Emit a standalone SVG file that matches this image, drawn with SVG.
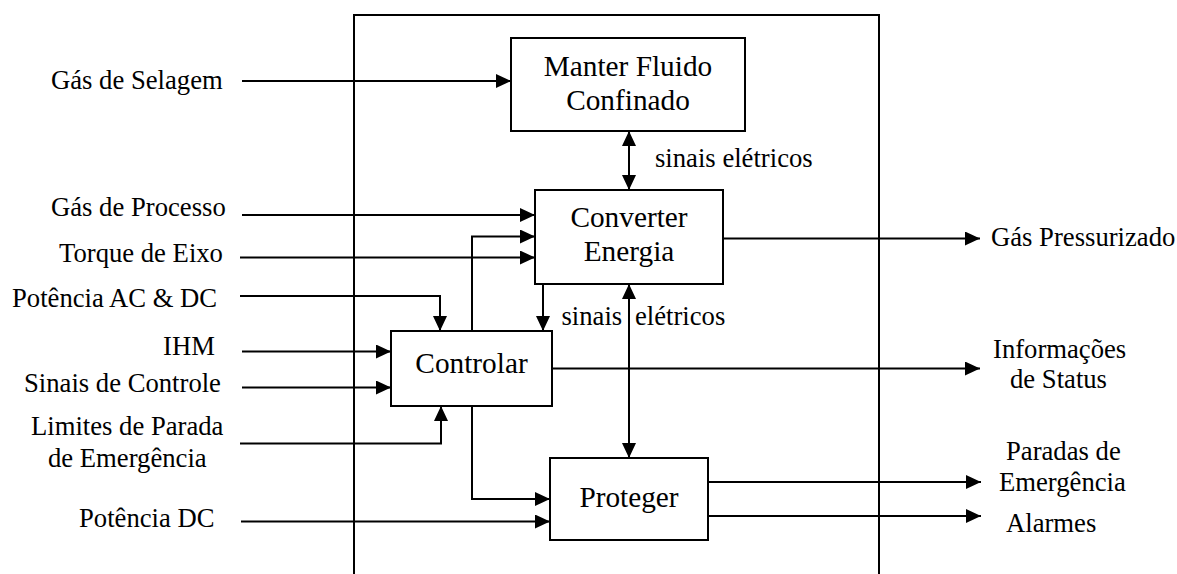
<svg xmlns="http://www.w3.org/2000/svg" width="1177" height="574" viewBox="0 0 1177 574">
<style>
.lbl{font-family:'Liberation Serif','DejaVu Serif',serif;font-size:26.67px;fill:#000}
.box{font-family:'Liberation Serif','DejaVu Serif',serif;font-size:29.3px;fill:#000;text-anchor:middle}
.node rect{fill:#fff;stroke:#000;stroke-width:2}
.wire{fill:none;stroke:#000;stroke-width:2}
</style>
<defs>
<marker id="ah" markerUnits="userSpaceOnUse" markerWidth="16" markerHeight="15" refX="15" refY="7" orient="auto-start-reverse">
<path d="M0,0 L15,7 L0,14 z" fill="#000"/>
</marker>
</defs>
<rect width="1177" height="574" fill="#fff"/>
<g id="boundary">
<path class="wire" d="M354,574 V15 H879 V574"/>
</g>
<g id="connectors">
<path class="wire" d="M242,81 H511" marker-end="url(#ah)"/>
<path class="wire" d="M629,131 V190" marker-start="url(#ah)" marker-end="url(#ah)"/>
<path class="wire" d="M242,215 H535" marker-end="url(#ah)"/>
<path class="wire" d="M472,331 V236.5 H535" marker-end="url(#ah)"/>
<path class="wire" d="M240,257.5 H535" marker-end="url(#ah)"/>
<path class="wire" d="M240,296 H440 V331" marker-end="url(#ah)"/>
<path class="wire" d="M543,284 V331" marker-end="url(#ah)"/>
<path class="wire" d="M629,284 V458" marker-start="url(#ah)" marker-end="url(#ah)"/>
<path class="wire" d="M242,351.5 H391" marker-end="url(#ah)"/>
<path class="wire" d="M242,387.5 H391" marker-end="url(#ah)"/>
<path class="wire" d="M240,443.5 H441 V406" marker-end="url(#ah)"/>
<path class="wire" d="M472,406 V499 H550" marker-end="url(#ah)"/>
<path class="wire" d="M241,521.5 H550" marker-end="url(#ah)"/>
<path class="wire" d="M723,238.5 H980" marker-end="url(#ah)"/>
<path class="wire" d="M552,368.5 H980" marker-end="url(#ah)"/>
<path class="wire" d="M708,482 H981" marker-end="url(#ah)"/>
<path class="wire" d="M708,516 H981" marker-end="url(#ah)"/>
</g>
<g id="manter" class="node">
<rect x="511" y="38" width="234" height="93"/>
<text class="box" x="628" y="76">Manter Fluido</text>
<text class="box" x="628" y="110">Confinado</text>
</g>
<g id="converter" class="node">
<rect x="535" y="190" width="188" height="94"/>
<text class="box" x="629" y="226.5">Converter</text>
<text class="box" x="629" y="261">Energia</text>
</g>
<g id="controlar" class="node">
<rect x="391" y="331" width="161" height="75"/>
<text class="box" x="471.5" y="373">Controlar</text>
</g>
<g id="proteger" class="node">
<rect x="550" y="458" width="158" height="82"/>
<text class="box" x="629" y="506.5">Proteger</text>
</g>
<g id="labels">
<text class="lbl" x="655" y="166.5">sinais elétricos</text>
<text class="lbl" x="561.5" y="325">sinais<tspan x="635">elétricos</tspan></text>
<text class="lbl" x="51" y="89">Gás de Selagem</text>
<text class="lbl" x="51" y="216">Gás de Processo</text>
<text class="lbl" x="59" y="261.5">Torque de Eixo</text>
<text class="lbl" x="12" y="306.5">Potência AC &amp; DC</text>
<text class="lbl" x="163" y="355">IHM</text>
<text class="lbl" x="24" y="391.5">Sinais de Controle</text>
<text class="lbl" x="31" y="435">Limites de Parada</text>
<text class="lbl" x="48" y="466.5">de Emergência</text>
<text class="lbl" x="79" y="527">Potência DC</text>
<text class="lbl" x="991" y="246">Gás Pressurizado</text>
<text class="lbl" x="993" y="358">Informações</text>
<text class="lbl" x="1010" y="388">de Status</text>
<text class="lbl" x="1006" y="460">Paradas de</text>
<text class="lbl" x="999" y="491">Emergência</text>
<text class="lbl" x="1006" y="531.5">Alarmes</text>
</g>
</svg>
